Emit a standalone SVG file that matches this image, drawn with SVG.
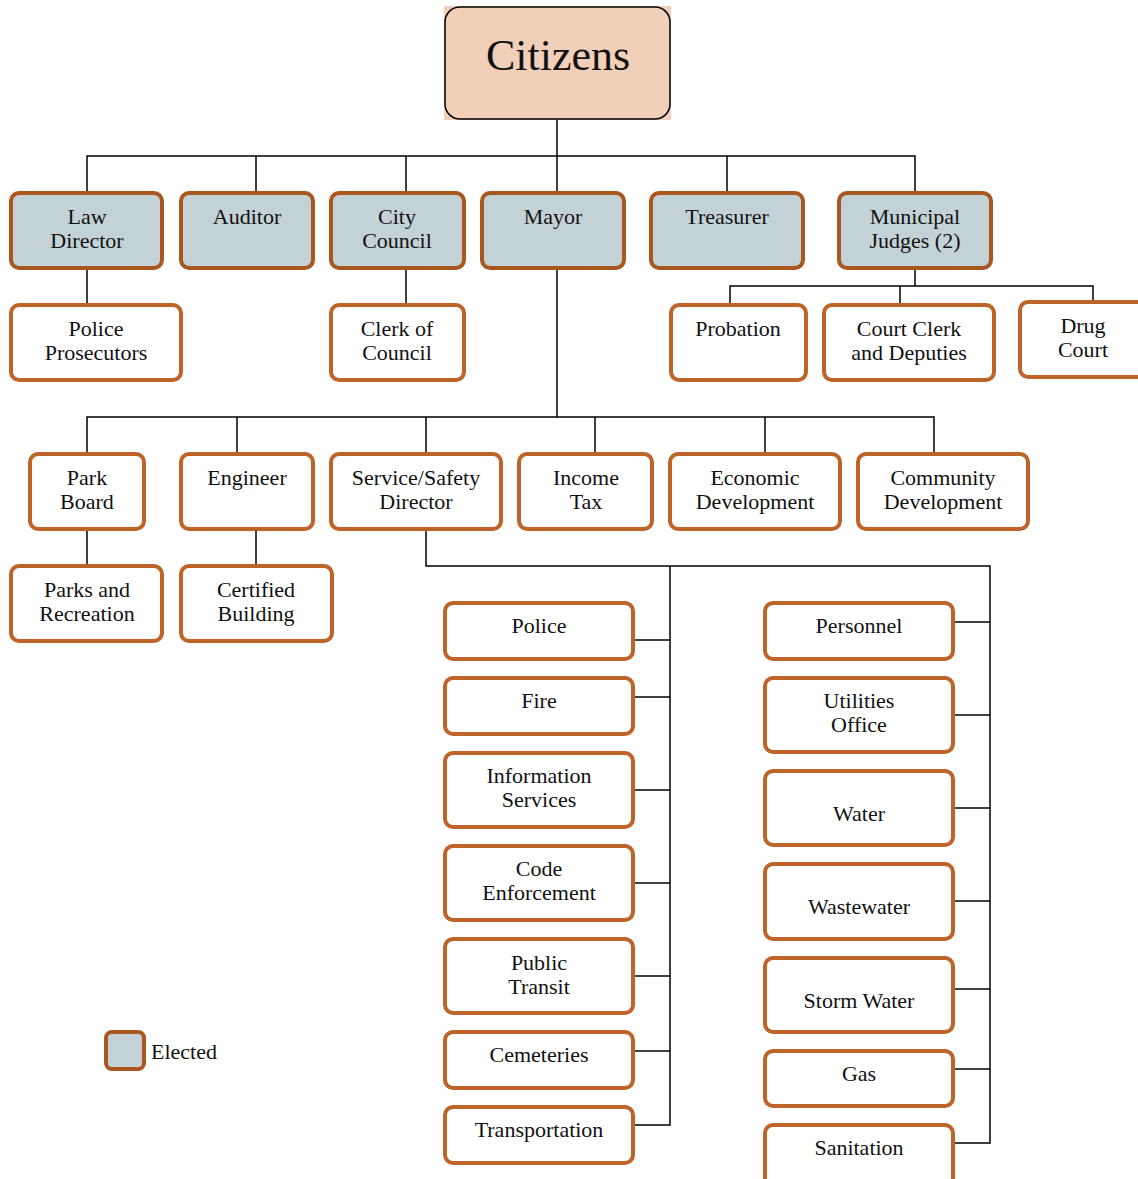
<svg xmlns="http://www.w3.org/2000/svg" width="1138" height="1179" viewBox="0 0 1138 1179">
<style>
.e{fill:#C3D2D6;stroke:#A9561F;stroke-width:4}
.w{fill:#FFFFFF;stroke:#BE6428;stroke-width:4}
text{font-family:"Liberation Serif","Times New Roman",serif;font-size:22px;fill:#111;text-anchor:middle}
.c line,.c polyline{stroke:#000;stroke-width:1.5;fill:none}
</style>
<rect width="1138" height="1179" fill="#fff"/>
<g class="c" id="connectors">
<line x1="557" y1="119" x2="557" y2="193"/>
<polyline points="87,193 87,156 915,156 915,193"/>
<line x1="256" y1="156" x2="256" y2="193"/>
<line x1="406" y1="156" x2="406" y2="193"/>
<line x1="727" y1="156" x2="727" y2="193"/>
<line x1="87" y1="268" x2="87" y2="305"/>
<line x1="406" y1="268" x2="406" y2="305"/>
<line x1="915" y1="268" x2="915" y2="286"/>
<polyline points="730,305 730,286 1093,286 1093,303"/>
<line x1="900" y1="286" x2="900" y2="305"/>
<line x1="557" y1="268" x2="557" y2="417"/>
<polyline points="87,454 87,417 934,417 934,454"/>
<line x1="237" y1="417" x2="237" y2="454"/>
<line x1="426" y1="417" x2="426" y2="454"/>
<line x1="595" y1="417" x2="595" y2="454"/>
<line x1="765" y1="417" x2="765" y2="454"/>
<line x1="87" y1="529" x2="87" y2="566"/>
<line x1="256" y1="529" x2="256" y2="566"/>
<polyline points="426,529 426,566 990,566 990,1143 953,1143"/>
<polyline points="670,566 670,1125 633,1125"/>
<line x1="633" y1="640" x2="670" y2="640"/>
<line x1="633" y1="697" x2="670" y2="697"/>
<line x1="633" y1="790" x2="670" y2="790"/>
<line x1="633" y1="883" x2="670" y2="883"/>
<line x1="633" y1="976" x2="670" y2="976"/>
<line x1="633" y1="1051" x2="670" y2="1051"/>
<line x1="953" y1="622" x2="990" y2="622"/>
<line x1="953" y1="715" x2="990" y2="715"/>
<line x1="953" y1="808" x2="990" y2="808"/>
<line x1="953" y1="901" x2="990" y2="901"/>
<line x1="953" y1="989" x2="990" y2="989"/>
<line x1="953" y1="1069" x2="990" y2="1069"/>
</g>
<g id="citizens">
<rect x="444" y="6" width="227" height="114" fill="#F2CFB8"/>
<rect x="445" y="7" width="225" height="112" rx="15" fill="#F2CFB8" stroke="#000" stroke-width="1.5"/>
<text x="558" y="70" style="font-size:44px">Citizens</text>
</g>
<g id="law-director"><rect class="e" x="11" y="193" width="151" height="75" rx="8"/><text x="87" y="224">Law</text><text x="87" y="248">Director</text></g>
<g id="auditor"><rect class="e" x="181" y="193" width="132" height="75" rx="8"/><text x="247" y="224">Auditor</text></g>
<g id="city-council"><rect class="e" x="331" y="193" width="133" height="75" rx="8"/><text x="397" y="224">City</text><text x="397" y="248">Council</text></g>
<g id="mayor"><rect class="e" x="482" y="193" width="142" height="75" rx="8"/><text x="553" y="224">Mayor</text></g>
<g id="treasurer"><rect class="e" x="651" y="193" width="152" height="75" rx="8"/><text x="727" y="224">Treasurer</text></g>
<g id="municipal-judges"><rect class="e" x="839" y="193" width="152" height="75" rx="8"/><text x="915" y="224">Municipal</text><text x="915" y="248">Judges (2)</text></g>
<g id="police-prosecutors"><rect class="w" x="11" y="305" width="170" height="75" rx="8"/><text x="96" y="336">Police</text><text x="96" y="360">Prosecutors</text></g>
<g id="clerk-of-council"><rect class="w" x="331" y="305" width="133" height="75" rx="8"/><text x="397" y="336">Clerk of</text><text x="397" y="360">Council</text></g>
<g id="probation"><rect class="w" x="671" y="305" width="135" height="75" rx="8"/><text x="738" y="336">Probation</text></g>
<g id="court-clerk"><rect class="w" x="824" y="305" width="170" height="75" rx="8"/><text x="909" y="336">Court Clerk</text><text x="909" y="360">and Deputies</text></g>
<g id="drug-court"><rect class="w" x="1020" y="302" width="130" height="75" rx="8"/><text x="1083" y="333">Drug</text><text x="1083" y="357">Court</text></g>
<g id="park-board"><rect class="w" x="30" y="454" width="114" height="75" rx="8"/><text x="87" y="485">Park</text><text x="87" y="509">Board</text></g>
<g id="engineer"><rect class="w" x="181" y="454" width="132" height="75" rx="8"/><text x="247" y="485">Engineer</text></g>
<g id="service-safety"><rect class="w" x="331" y="454" width="170" height="75" rx="8"/><text x="416" y="485">Service/Safety</text><text x="416" y="509">Director</text></g>
<g id="income-tax"><rect class="w" x="519" y="454" width="133" height="75" rx="8"/><text x="586" y="485">Income</text><text x="586" y="509">Tax</text></g>
<g id="economic-development"><rect class="w" x="670" y="454" width="170" height="75" rx="8"/><text x="755" y="485">Economic</text><text x="755" y="509">Development</text></g>
<g id="community-development"><rect class="w" x="858" y="454" width="170" height="75" rx="8"/><text x="943" y="485">Community</text><text x="943" y="509">Development</text></g>
<g id="parks-recreation"><rect class="w" x="11" y="566" width="151" height="75" rx="8"/><text x="87" y="597">Parks and</text><text x="87" y="621">Recreation</text></g>
<g id="certified-building"><rect class="w" x="181" y="566" width="151" height="75" rx="8"/><text x="256" y="597">Certified</text><text x="256" y="621">Building</text></g>
<g id="police"><rect class="w" x="445" y="603" width="188" height="56" rx="8"/><text x="539" y="633">Police</text></g>
<g id="fire"><rect class="w" x="445" y="678" width="188" height="56" rx="8"/><text x="539" y="708">Fire</text></g>
<g id="information-services"><rect class="w" x="445" y="753" width="188" height="74" rx="8"/><text x="539" y="783">Information</text><text x="539" y="807">Services</text></g>
<g id="code-enforcement"><rect class="w" x="445" y="846" width="188" height="74" rx="8"/><text x="539" y="876">Code</text><text x="539" y="900">Enforcement</text></g>
<g id="public-transit"><rect class="w" x="445" y="939" width="188" height="74" rx="8"/><text x="539" y="970">Public</text><text x="539" y="994">Transit</text></g>
<g id="cemeteries"><rect class="w" x="445" y="1032" width="188" height="56" rx="8"/><text x="539" y="1062">Cemeteries</text></g>
<g id="transportation"><rect class="w" x="445" y="1107" width="188" height="56" rx="8"/><text x="539" y="1137">Transportation</text></g>
<g id="personnel"><rect class="w" x="765" y="603" width="188" height="56" rx="8"/><text x="859" y="633">Personnel</text></g>
<g id="utilities-office"><rect class="w" x="765" y="678" width="188" height="74" rx="8"/><text x="859" y="708">Utilities</text><text x="859" y="732">Office</text></g>
<g id="water"><rect class="w" x="765" y="771" width="188" height="74" rx="8"/><text x="859" y="821">Water</text></g>
<g id="wastewater"><rect class="w" x="765" y="864" width="188" height="75" rx="8"/><text x="859" y="914">Wastewater</text></g>
<g id="storm-water"><rect class="w" x="765" y="958" width="188" height="74" rx="8"/><text x="859" y="1008">Storm Water</text></g>
<g id="gas"><rect class="w" x="765" y="1051" width="188" height="55" rx="8"/><text x="859" y="1081">Gas</text></g>
<g id="sanitation"><rect class="w" x="765" y="1125" width="188" height="70" rx="8"/><text x="859" y="1155">Sanitation</text></g>
<g id="legend"><rect class="e" x="106" y="1032" width="38" height="37" rx="6"/><text x="151" y="1059" style="text-anchor:start">Elected</text></g>
</svg>
